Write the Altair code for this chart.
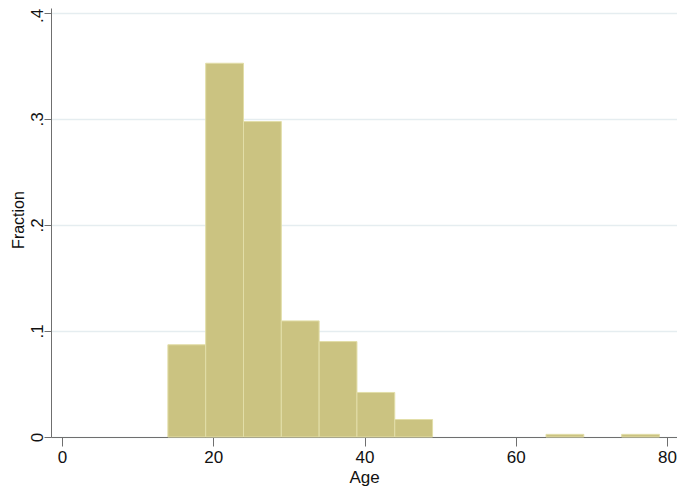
import altair as alt
import pandas as pd

bin_start = [14, 19, 24, 29, 34, 39, 44, 64, 74]
bin_end = [19, 24, 29, 34, 39, 44, 49, 69, 79]
fraction = [0.087, 0.3525, 0.2975, 0.1095, 0.09, 0.042, 0.0165, 0.0025, 0.0025]
x_ticks = [0, 20, 40, 60, 80]
y_ticks = [0, 0.1, 0.2, 0.3, 0.4]

df = pd.DataFrame({"start": bin_start, "end": bin_end, "fraction": fraction})

FONT = "Liberation Sans"
AXIS_COLOR = "#6f6f6f"
TEXT_COLOR = "#111111"

chart = alt.Chart(df).mark_rect(
    fill="#cbc381", stroke="#e2dea8", strokeWidth=1
).encode(
    x=alt.X("start:Q",
            scale=alt.Scale(domain=[-1.455, 81.32], nice=False, zero=False),
            axis=alt.Axis(values=x_ticks, title="Age", grid=False,
                          domainColor=AXIS_COLOR, tickColor=AXIS_COLOR,
                          tickSize=9, labelPadding=3.7, labelFontSize=17,
                          labelFont=FONT, labelColor=TEXT_COLOR,
                          titleFont=FONT, titleFontSize=17, titleFontWeight="normal",
                          titleColor=TEXT_COLOR, titleBaseline="alphabetic",
                          titleY=45.2, labelFlush=False)),
    x2="end:Q",
    y=alt.Y("fraction:Q",
            scale=alt.Scale(domain=[0, 0.4046], nice=False),
            axis=alt.Axis(values=y_ticks, title="Fraction",
                          labelExpr="datum.value == 0 ? '0' : slice(format(datum.value, '.1f'), 1)",
                          grid=True, gridColor="#e5edf0", gridWidth=1.5,
                          domainColor=AXIS_COLOR, tickColor=AXIS_COLOR,
                          tickSize=7, labelPadding=2, labelFontSize=17,
                          labelFont=FONT, labelColor=TEXT_COLOR,
                          labelAngle=270, labelAlign="center", labelBaseline="alphabetic",
                          labelOffset={"condition": {"test": "datum.value > 0.35", "value": 2.5},
                                       "value": 0},
                          labelFlush=False,
                          titleFont=FONT, titleFontSize=16, titleFontWeight="normal",
                          titleColor=TEXT_COLOR, titleAngle=270, titleAlign="center",
                          titleBaseline="alphabetic", titleX=-28, titleY=211.5)),
    y2=alt.Y2(datum=0),
).properties(
    width=626,
    height=429,
    autosize=alt.AutoSizeParams(type="none"),
    padding={"left": 43, "top": 0, "right": 0, "bottom": 49},
    background="white",
).configure_view(stroke=None)

chart.save("out.html", embed_options={"renderer": "svg", "actions": False})
